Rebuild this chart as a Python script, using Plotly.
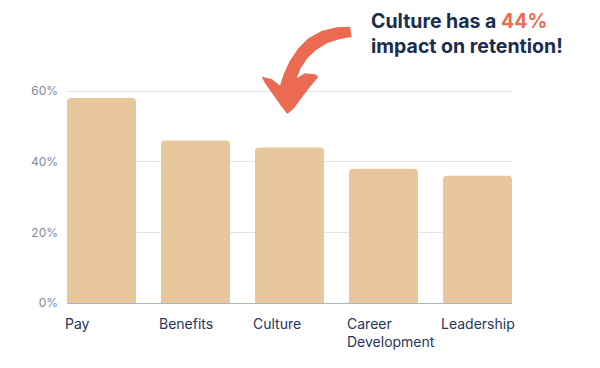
import plotly.graph_objects as go

categories = ["Pay", "Benefits", "Culture", "Career Development", "Leadership"]
label_texts = ["Pay", "Benefits", "Culture", "Career<br>Development", "Leadership"]
values = [0.58, 0.46, 0.44, 0.38, 0.36]
y_ticks = [0, 0.2, 0.4, 0.6]
y_tick_labels = ["0%", "20%", "40%", "60%"]

W, H = 600, 368
L, R, T, B = 67, 88, 88, 65
PW, PH = W - L - R, H - T - B
BASE = H - B  # pixel row of 0%
Y_TOP = 0.6 * PH / 212.0  # keeps 60% at pixel row 91

def px2paper(x, y):
    return (x - L) / PW, (BASE - y) / PH

# arrow outline (pixel positions of the decorative curved arrow)
arrow_zoom = [
    (300, 35), (260, 37), (215, 48), (175, 70), (145, 100), (118, 140), (100, 180),
    (90, 212), (65, 192), (35, 185), (45, 205), (70, 240), (95, 275), (112, 297),
    (130, 282), (155, 248), (180, 215), (205, 186), (195, 178), (165, 175), (140, 190),
    (152, 160), (172, 130), (197, 106), (232, 84), (270, 72), (305, 66),
]
arrow_pts = [px2paper(250 + zx / 3, 15 + zy / 3) for zx, zy in arrow_zoom]
path = "M " + " L ".join(f"{x:.4f},{y:.4f}" for x, y in arrow_pts) + " Z"

bargap = 0.266
half = (1 - bargap) / 2

fig = go.Figure()
fig.add_trace(go.Bar(
    x=categories, y=values,
    marker=dict(color="#E9C79D", cornerradius=4, line=dict(width=0)),
    hoverinfo="skip",
))

fig.update_layout(
    width=W, height=H,
    margin=dict(l=L, r=R, t=T, b=B),
    paper_bgcolor="white", plot_bgcolor="white",
    bargap=bargap,
    showlegend=False,
    font=dict(family="Inter, Open Sans, sans-serif"),
    xaxis=dict(
        range=[-half, len(categories) - 1 + half],
        showticklabels=False, showgrid=False, zeroline=False, showline=False,
        ticks="",
    ),
    yaxis=dict(
        range=[0, Y_TOP], tickvals=y_ticks, ticktext=y_tick_labels,
        showgrid=True, gridcolor="#E1E5EB", gridwidth=1,
        zeroline=True, zerolinecolor="#A9B8C9", zerolinewidth=1,
        showline=False, ticks="", ticklabelstandoff=8,
        tickfont=dict(size=12, color="#7D8BA0", family="Inter, sans-serif"),
    ),
    shapes=[dict(
        type="path", xref="paper", yref="paper", path=path,
        fillcolor="#EC6A52", line=dict(width=0), layer="above",
    )],
)

for cat, txt in zip(categories, label_texts):
    fig.add_annotation(
        x=cat, xref="x", y=(BASE - 313) / PH, yref="paper",
        text=txt, showarrow=False, xanchor="left", yanchor="top", align="left",
        xshift=-39, font=dict(size=14, color="#25365A", family="Inter, sans-serif"),
    )

tx, ty = px2paper(369, 7)
fig.add_annotation(
    x=tx, y=ty, xref="paper", yref="paper", xanchor="left", yanchor="top", align="left",
    showarrow=False,
    text="<b>Culture has a <span style='color:#EC6A52'>44%</span><br>impact on retention!</b>",
    font=dict(size=19.5, color="#1B2D4F", family="Inter, sans-serif"),
)

fig.write_html("out.html")
